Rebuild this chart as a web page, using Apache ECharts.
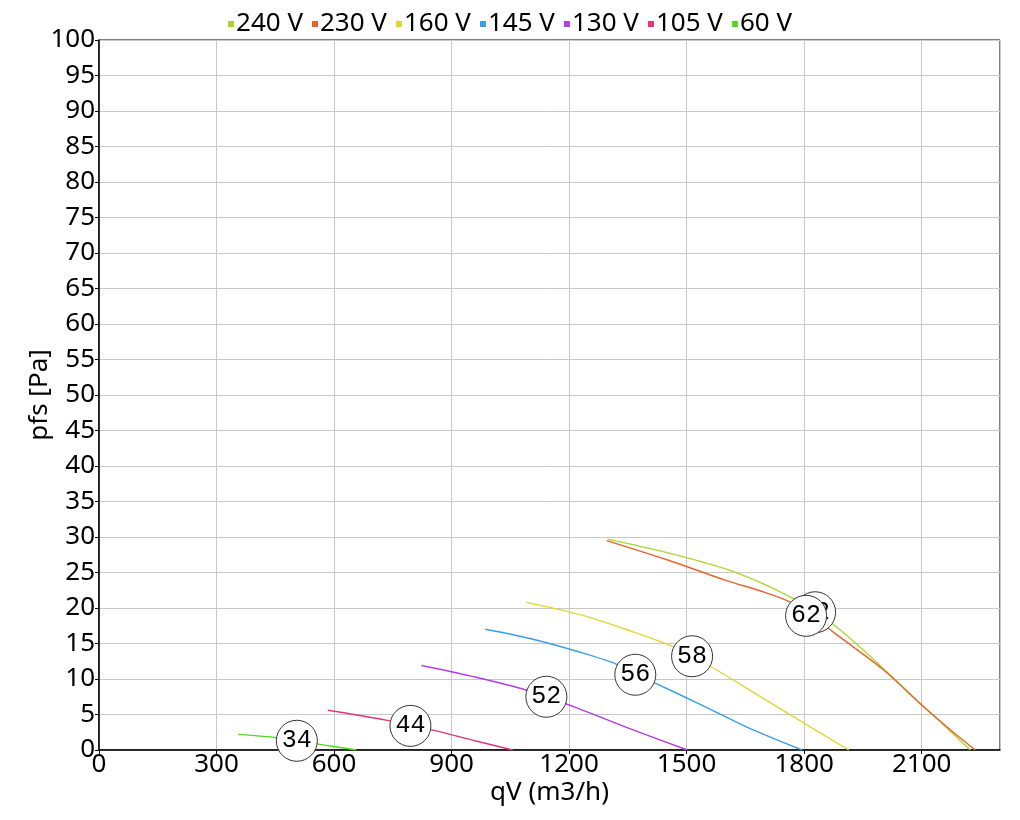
<!DOCTYPE html>
<html><head><meta charset="utf-8">
<script src="https://cdn.jsdelivr.net/npm/echarts@6/dist/echarts.min.js"></script>
<style>html,body{margin:0;padding:0;background:#fff}#c{width:1020px;height:820px}</style>
</head><body><div id="c"></div>
<script>
const seriesNames = ['240 V','230 V','160 V','145 V','130 V','105 V','60 V'];
const seriesColors = ['#a8d82c','#e8642c','#e2d630','#3a9ee6','#b43ce6','#e8327a','#52d820'];
const s240 = [[1298,29.7],[1450,27.8],[1600,25.5],[1700,23.3],[1770,21.4],[1830,19.5],[1897,16.7],[2000,11.6],[2101,6.3],[2170,2.8],[2224,0]];
const s230 = [[1296,29.5],[1450,26.8],[1600,23.9],[1700,22.2],[1770,20.7],[1820,19.0],[1872,16.7],[2000,11.4],[2101,6.3],[2170,3.0],[2237,0]];
const s160 = [[1091,20.8],[1226,19.1],[1350,16.9],[1464,14.6],[1557,11.9],[1680,7.8],[1787,4.2],[1914,0]];
const s145 = [[986,17.0],[1100,15.7],[1226,13.8],[1320,12.1],[1421,9.4],[1540,6.3],[1651,3.3],[1795,0]];
const s130 = [[823,11.9],[950,10.4],[1090,8.45],[1226,5.8],[1360,2.9],[1502,0]];
const s105 = [[584,5.6],[733,4.2],[852,2.8],[960,1.3],[1056,0]];
const s60  = [[355,2.2],[461,1.7],[563,0.8],[657,0]];
const curves = [s240,s230,s160,s145,s130,s105,s60];
const markX = [505,795,1142,1369,1514,1828,1805];
const markY = [1.3,3.4,7.5,10.6,13.2,19.4,18.9];
const markText = ['34','44','52','56','58','62','62'];

const FONT = 'Noto Sans';
const MONO = 'Liberation Mono';
const chart = echarts.init(document.getElementById('c'), null, {renderer:'canvas'});
const series = curves.map((d,i)=>({
  name: seriesNames[i], type:'line', data:d, smooth:0.3, showSymbol:false, symbol:'none',
  lineStyle:{width:1.4,color:seriesColors[i]}, itemStyle:{color:seriesColors[i]}, z:2
}));
markX.forEach((x,i)=>{
  series.push({
    type:'scatter', name:'mark'+i, data:[[x,markY[i],markText[i]]],
    symbol:'circle', symbolSize:41, z:5+i,
    itemStyle:{color:'#fff',borderColor:'#333',borderWidth:1, opacity:1},
    label:{show:true,position:'inside',formatter:p=>p.data[2],
      fontFamily:MONO,fontSize:25,color:'#000'},
    emphasis:{disabled:true}, silent:true
  });
});
chart.setOption({
  animation:false,
  backgroundColor:'#fff',
  textStyle:{fontFamily:FONT},
  legend:{top:6,left:'center',data:seriesNames,icon:'rect',itemWidth:6,itemHeight:6,itemGap:9,
    textStyle:{fontFamily:FONT,fontSize:26,color:'#000',padding:[0,0,0,-3]}},
  grid:{left:99,right:20,top:40,bottom:70,containLabel:false,show:true,borderColor:'#000',borderWidth:1},
  xAxis:{type:'value',min:0,max:2300,interval:300,name:'qV (m3/h)',nameLocation:'middle',nameGap:30,nameMoveOverlap:false,
    nameTextStyle:{fontFamily:FONT,fontSize:26,color:'#000'},
    axisLine:{show:true,lineStyle:{color:'#000',width:1.5}},axisTick:{show:true,length:4,lineStyle:{color:'#000'}},
    axisLabel:{fontFamily:FONT,fontSize:26,color:'#000',margin:2,showMaxLabel:false,formatter:v=>String(v)},
    splitLine:{show:true,lineStyle:{color:'#c8c8c8',width:1}}},
  yAxis:{type:'value',min:0,max:100,interval:5,name:'pfs [Pa]',nameLocation:'middle',nameGap:46,nameRotate:90,nameMoveOverlap:false,
    nameTextStyle:{fontFamily:FONT,fontSize:26,color:'#000'},
    axisLine:{show:true,lineStyle:{color:'#000',width:1.5}},axisTick:{show:true,length:4,lineStyle:{color:'#000'}},
    axisLabel:{fontFamily:FONT,fontSize:26,color:'#000',margin:4,formatter:v=>String(v)},
    splitLine:{show:true,lineStyle:{color:'#c8c8c8',width:1}}},
  series
});
</script></body></html>
